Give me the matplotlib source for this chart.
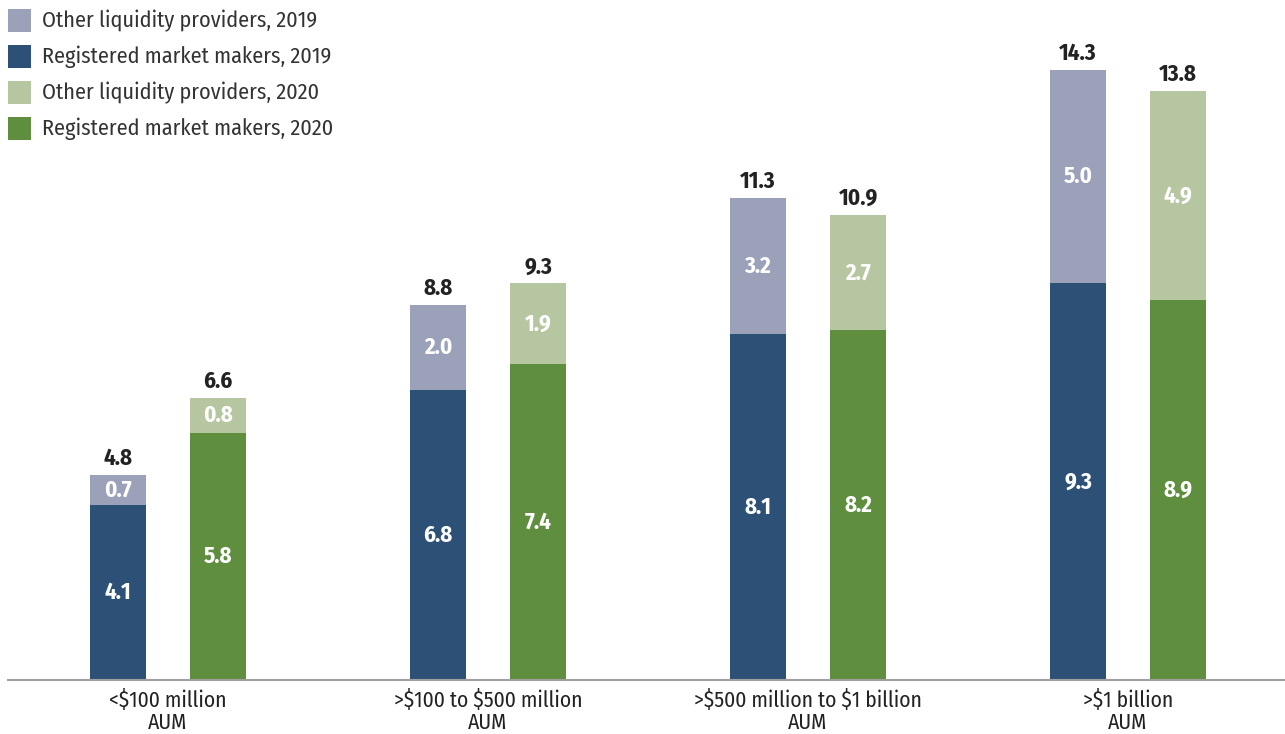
import numpy as np
import matplotlib
matplotlib.use("Agg")
import matplotlib.pyplot as plt
from matplotlib.patches import Rectangle

plt.rcParams['font.family'] = ['Fira Sans Condensed', 'DejaVu Sans']
plt.rcParams['text.parse_math'] = False

categories = ['<$100 million\nAUM', '>$100 to $500 million\nAUM',
              '>$500 million to $1 billion\nAUM', '>$1 billion\nAUM']
rmm_2019 = [4.1, 6.8, 8.1, 9.3]
other_2019 = [0.7, 2.0, 3.2, 5.0]
total_2019 = [4.8, 8.8, 11.3, 14.3]
rmm_2020 = [5.8, 7.4, 8.2, 8.9]
other_2020 = [0.8, 1.9, 2.7, 4.9]
total_2020 = [6.6, 9.3, 10.9, 13.8]

labels = ['Other liquidity providers, 2019', 'Registered market makers, 2019',
          'Other liquidity providers, 2020', 'Registered market makers, 2020']
colors = ['#9ba1b9', '#2d5077', '#b6c6a0', '#5e8e3e']

W, H = 1285, 734
fig = plt.figure(figsize=(W / 100, H / 100), dpi=100)
ax = fig.add_axes([8 / W, 54 / H, 1 - 8 / W, 680 / H])

x = np.arange(len(categories))
w = 56 / 320
off = 50 / 320
px = 1 / 42.66  # one pixel in data units

groups = [(x - off, rmm_2019, other_2019, total_2019, colors[1], colors[0]),
          (x + off, rmm_2020, other_2020, total_2020, colors[3], colors[2])]
for pos, base, top, tot, c_base, c_top in groups:
    ax.bar(pos, base, width=w, color=c_base, linewidth=0)
    ax.bar(pos, top, bottom=base, width=w, color=c_top, linewidth=0)
    for xi, b, t, s in zip(pos, base, top, tot):
        ax.text(xi, b / 2, f'{b:.1f}', ha='center', va='center', color='white',
                fontsize=16.5, fontweight='bold')
        ax.text(xi, b + t / 2, f'{t:.1f}', ha='center', va='center', color='white',
                fontsize=16.5, fontweight='bold')
        ax.text(xi, s + 10 * px, f'{s:.1f}', ha='center', va='baseline',
                color='#222222', fontsize=16.5, fontweight='bold')

ax.set_xlim(-0.5, (W - 168) / 320)
ax.set_ylim(0, 680 * px)
ax.set_xticks(x)
ax.set_xticklabels(categories, fontsize=15.5, color='#222222', linespacing=1.05)
ax.tick_params(axis='x', length=0, pad=7)
ax.set_yticks([])
for side in ['top', 'right', 'left']:
    ax.spines[side].set_visible(False)
ax.spines['bottom'].set_color('#a0a0a0')
ax.spines['bottom'].set_linewidth(1.5)

# legend drawn by hand in pixel space
for i, (c, lab) in enumerate(zip(colors, labels)):
    yc = 20.5 + 36 * i
    fig.patches.append(Rectangle((8 / W, 1 - (yc + 11.5) / H), 23 / W, 23 / H,
                                 transform=fig.transFigure, facecolor=c,
                                 edgecolor='none'))
    fig.text(42 / W, 1 - yc / H, lab, ha='left', va='center', fontsize=16,
             color='#333333')

fig.savefig('out.png', dpi=100)
